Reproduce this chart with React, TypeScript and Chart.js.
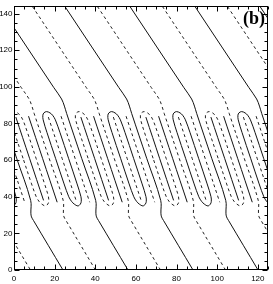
import React, { useEffect, useRef } from 'react';
import { Chart, registerables } from 'chart.js';

Chart.register(...registerables);

// ---- axes ----
const X_TICKS = [0, 20, 40, 60, 80, 100, 120];
const Y_TICKS = [0, 20, 40, 60, 80, 100, 120, 140];
const X_MIN = 0;
const X_MAX = 125;
const Y_MIN = 0;
const Y_MAX = 144;
const MINOR_STEP = 5;

// ---- contour data ----
// x where each solid through-going contour meets the top edge (y = 144)
const SOLID_ORIGINS = [-71, -39, -7, 25, 57, 89, 121];
// dashed contours sit half a wave to the right of the solid ones
const HALF_WAVE = 16;

// through-going contour: x offset from its origin, y
const THROUGH_X = [0, 26.6, 30.4, 31.8, 32.9, 40.3, 47.2, 47.3, 47.6, 48.6, 63.1];
const THROUGH_Y = [144, 99.6, 93.4, 89.5, 85.5, 61, 38, 31, 29, 27, 0];

// narrow closed loop inside the band, to the left of the through contour
const LOOP_X = [27.45, 23.25, 21.35, 21.2, 21.71, 23.0, 24.71, 26.0, 27.35, 29.65, 33.85, 38.05, 39.95, 40.1, 39.65, 38.45, 36.65, 35.3, 33.95, 31.65, 27.45];
const LOOP_Y = [61, 75, 82, 84.5, 85.8, 86.5, 85.8, 84.5, 82, 75, 61, 47, 40, 37.5, 36, 35, 36, 37.5, 40, 47, 61];

// thin contour inside each loop (opposite sign)
const CORE_X = [23.9, 30.65, 37.55];
const CORE_Y = [83.5, 61, 38];

// thin contour just left of each through contour (opposite sign)
const THIN_X = [30.15, 37.05, 44.25];
const THIN_Y = [84, 61, 37];

const SOLID = { borderColor: '#111', borderWidth: 1, borderDash: [] as number[] };
const DASHED = { borderColor: '#222', borderWidth: 1, borderDash: [3, 3] };

function pts(xs: number[], ys: number[], dx: number) {
  return xs.map((x, i) => ({ x: x + dx, y: ys[i] }));
}

function ds(data: { x: number; y: number }[], style: any) {
  return {
    data,
    showLine: true,
    pointRadius: 0,
    pointHoverRadius: 0,
    tension: 0.35,
    fill: false,
    ...style,
  };
}

function buildDatasets() {
  const out: any[] = [];
  for (const o of SOLID_ORIGINS) {
    const d = o + HALF_WAVE;
    out.push(ds(pts(THROUGH_X, THROUGH_Y, o), SOLID));
    out.push(ds(pts(LOOP_X, LOOP_Y, o), SOLID));
    out.push(ds(pts(CORE_X, CORE_Y, o), DASHED));
    out.push(ds(pts(THIN_X, THIN_Y, o), DASHED));

    out.push(ds(pts(THROUGH_X, THROUGH_Y, d), DASHED));
    out.push(ds(pts(LOOP_X, LOOP_Y, d), DASHED));
    out.push(ds(pts(CORE_X, CORE_Y, d), SOLID));
    out.push(ds(pts(THIN_X, THIN_Y, d), SOLID));
  }
  return out;
}

const framePlugin = {
  id: 'frame',
  afterDraw(chart: any) {
    const { ctx, chartArea: a, scales } = chart;
    const xs = scales.x;
    const ys = scales.y;
    const L = Math.round(a.left) + 0.5;
    const R = Math.round(a.right) - 0.5;
    const T = Math.round(a.top) + 0.5;
    const B = Math.round(a.bottom) - 0.5;
    ctx.save();
    ctx.strokeStyle = '#000';
    ctx.lineWidth = 1;
    ctx.setLineDash([]);
    ctx.strokeRect(L, T, R - L, B - T);
    ctx.beginPath();
    for (let v = X_MIN; v <= X_MAX; v += MINOR_STEP) {
      const px = Math.round(xs.getPixelForValue(v)) + 0.5;
      const len = X_TICKS.includes(v) ? 5 : 3;
      ctx.moveTo(px, B);
      ctx.lineTo(px, B - len);
      ctx.moveTo(px, T);
      ctx.lineTo(px, T + len);
    }
    for (let v = Y_MIN; v <= Y_MAX; v += MINOR_STEP) {
      const py = Math.round(ys.getPixelForValue(v)) + 0.5;
      const len = Y_TICKS.includes(v) ? 5 : 3;
      ctx.moveTo(L, py);
      ctx.lineTo(L + len, py);
      ctx.moveTo(R, py);
      ctx.lineTo(R - len, py);
    }
    ctx.stroke();
    ctx.restore();
  },
};

export default function App() {
  const ref = useRef<HTMLCanvasElement | null>(null);

  useEffect(() => {
    if (!ref.current) return;
    const tickFont = { family: '"Liberation Sans", Arial, sans-serif', size: 8 };
    const chart = new Chart(ref.current, {
      type: 'scatter',
      data: { datasets: buildDatasets() },
      options: {
        animation: false,
        responsive: true,
        maintainAspectRatio: false,
        devicePixelRatio: 1,
        events: [],
        layout: { padding: { top: 0.5, right: 5, left: 0, bottom: 0 } },
        plugins: {
          legend: { display: false },
          tooltip: { enabled: false },
        },
        scales: {
          x: {
            type: 'linear',
            min: X_MIN,
            max: X_MAX,
            afterBuildTicks: (axis: any) => {
              axis.ticks = X_TICKS.map((v) => ({ value: v }));
            },
            afterFit: (s: any) => {
              s.height = 14;
            },
            ticks: {
              autoSkip: false,
              maxRotation: 0,
              minRotation: 0,
              padding: 3.5,
              color: '#000',
              font: tickFont,
              callback: (v: any) => String(v),
            },
            grid: { display: false, drawTicks: false },
            border: { display: false },
          },
          y: {
            type: 'linear',
            min: Y_MIN,
            max: Y_MAX,
            afterBuildTicks: (axis: any) => {
              axis.ticks = Y_TICKS.map((v) => ({ value: v }));
            },
            afterFit: (s: any) => {
              s.width = 14;
            },
            ticks: {
              autoSkip: false,
              padding: 1.5,
              color: '#000',
              font: tickFont,
              callback: (v: any) => String(v),
            },
            grid: { display: false, drawTicks: false },
            border: { display: false },
          },
        },
      } as any,
      plugins: [framePlugin],
    });
    return () => chart.destroy();
  }, []);

  return (
    <div style={{ position: 'absolute', left: 0, top: 0, width: 273, height: 284, background: '#fff' }}>
      <canvas ref={ref} />
      <span
        style={{
          position: 'absolute',
          right: 8,
          top: 9,
          font: 'bold 18px "Liberation Serif", "Times New Roman", serif',
          lineHeight: '18px',
          color: '#000',
        }}
      >
        (b)
      </span>
    </div>
  );
}
